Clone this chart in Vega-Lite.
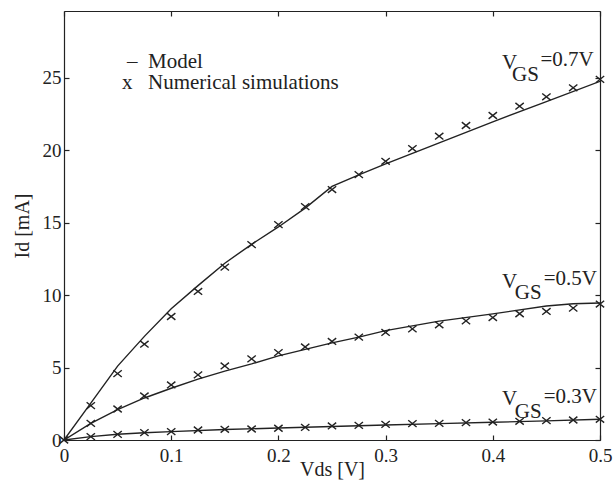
{
  "$schema": "https://vega.github.io/schema/vega-lite/v6.json",
  "width": 536,
  "height": 429,
  "autosize": {"type": "none"},
  "padding": {"left": 64, "top": 11, "right": 13, "bottom": 44},
  "background": "white",
  "config": {
    "font": "Liberation Serif",
    "view": {"stroke": null},
    "axis": {"grid": false, "domainColor": "#222", "tickColor": "#222", "labelColor": "#222", "titleColor": "#222", "labelFont": "Liberation Serif", "titleFont": "Liberation Serif", "titleFontWeight": "normal", "labelFontSize": 19, "titleFontSize": 20, "tickSize": -5, "domainWidth": 1.2, "tickWidth": 1.2}
  },
  "datasets": {
    "model": [
      {"vgs": "0.7", "vds": 0, "id": 0}, {"vgs": "0.7", "vds": 0.025, "id": 2.55}, {"vgs": "0.7", "vds": 0.05, "id": 5.1}, {"vgs": "0.7", "vds": 0.075, "id": 7.15}, {"vgs": "0.7", "vds": 0.1, "id": 9.05}, {"vgs": "0.7", "vds": 0.125, "id": 10.65}, {"vgs": "0.7", "vds": 0.15, "id": 12.2}, {"vgs": "0.7", "vds": 0.175, "id": 13.5}, {"vgs": "0.7", "vds": 0.2, "id": 14.7}, {"vgs": "0.7", "vds": 0.225, "id": 16.0}, {"vgs": "0.7", "vds": 0.25, "id": 17.5}, {"vgs": "0.7", "vds": 0.275, "id": 18.3}, {"vgs": "0.7", "vds": 0.3, "id": 19.05}, {"vgs": "0.7", "vds": 0.35, "id": 20.5}, {"vgs": "0.7", "vds": 0.4, "id": 21.95}, {"vgs": "0.7", "vds": 0.45, "id": 23.35}, {"vgs": "0.7", "vds": 0.5, "id": 24.75},
      {"vgs": "0.5", "vds": 0, "id": 0}, {"vgs": "0.5", "vds": 0.025, "id": 1.15}, {"vgs": "0.5", "vds": 0.05, "id": 2.1}, {"vgs": "0.5", "vds": 0.075, "id": 2.9}, {"vgs": "0.5", "vds": 0.1, "id": 3.57}, {"vgs": "0.5", "vds": 0.125, "id": 4.2}, {"vgs": "0.5", "vds": 0.15, "id": 4.75}, {"vgs": "0.5", "vds": 0.175, "id": 5.25}, {"vgs": "0.5", "vds": 0.2, "id": 5.8}, {"vgs": "0.5", "vds": 0.225, "id": 6.25}, {"vgs": "0.5", "vds": 0.25, "id": 6.7}, {"vgs": "0.5", "vds": 0.275, "id": 7.1}, {"vgs": "0.5", "vds": 0.3, "id": 7.55}, {"vgs": "0.5", "vds": 0.35, "id": 8.2}, {"vgs": "0.5", "vds": 0.4, "id": 8.7}, {"vgs": "0.5", "vds": 0.45, "id": 9.25}, {"vgs": "0.5", "vds": 0.475, "id": 9.4}, {"vgs": "0.5", "vds": 0.5, "id": 9.45},
      {"vgs": "0.3", "vds": 0, "id": 0}, {"vgs": "0.3", "vds": 0.025, "id": 0.23}, {"vgs": "0.3", "vds": 0.05, "id": 0.4}, {"vgs": "0.3", "vds": 0.075, "id": 0.5}, {"vgs": "0.3", "vds": 0.1, "id": 0.58}, {"vgs": "0.3", "vds": 0.15, "id": 0.72}, {"vgs": "0.3", "vds": 0.2, "id": 0.83}, {"vgs": "0.3", "vds": 0.25, "id": 0.93}, {"vgs": "0.3", "vds": 0.3, "id": 1.04}, {"vgs": "0.3", "vds": 0.35, "id": 1.13}, {"vgs": "0.3", "vds": 0.4, "id": 1.22}, {"vgs": "0.3", "vds": 0.45, "id": 1.32}, {"vgs": "0.3", "vds": 0.5, "id": 1.43}
    ],
    "sim": [
      {"vgs": "0.7", "vds": 0, "id": 0}, {"vgs": "0.7", "vds": 0.025, "id": 2.37}, {"vgs": "0.7", "vds": 0.05, "id": 4.58}, {"vgs": "0.7", "vds": 0.075, "id": 6.61}, {"vgs": "0.7", "vds": 0.1, "id": 8.52}, {"vgs": "0.7", "vds": 0.125, "id": 10.25}, {"vgs": "0.7", "vds": 0.15, "id": 11.93}, {"vgs": "0.7", "vds": 0.175, "id": 13.48}, {"vgs": "0.7", "vds": 0.2, "id": 14.86}, {"vgs": "0.7", "vds": 0.225, "id": 16.1}, {"vgs": "0.7", "vds": 0.25, "id": 17.28}, {"vgs": "0.7", "vds": 0.275, "id": 18.31}, {"vgs": "0.7", "vds": 0.3, "id": 19.23}, {"vgs": "0.7", "vds": 0.325, "id": 20.11}, {"vgs": "0.7", "vds": 0.35, "id": 20.96}, {"vgs": "0.7", "vds": 0.375, "id": 21.7}, {"vgs": "0.7", "vds": 0.4, "id": 22.39}, {"vgs": "0.7", "vds": 0.425, "id": 23.03}, {"vgs": "0.7", "vds": 0.45, "id": 23.68}, {"vgs": "0.7", "vds": 0.475, "id": 24.3}, {"vgs": "0.7", "vds": 0.5, "id": 24.88},
      {"vgs": "0.5", "vds": 0.025, "id": 1.15}, {"vgs": "0.5", "vds": 0.05, "id": 2.14}, {"vgs": "0.5", "vds": 0.075, "id": 3.04}, {"vgs": "0.5", "vds": 0.1, "id": 3.8}, {"vgs": "0.5", "vds": 0.125, "id": 4.49}, {"vgs": "0.5", "vds": 0.15, "id": 5.11}, {"vgs": "0.5", "vds": 0.175, "id": 5.6}, {"vgs": "0.5", "vds": 0.2, "id": 6.03}, {"vgs": "0.5", "vds": 0.225, "id": 6.42}, {"vgs": "0.5", "vds": 0.25, "id": 6.8}, {"vgs": "0.5", "vds": 0.275, "id": 7.1}, {"vgs": "0.5", "vds": 0.3, "id": 7.42}, {"vgs": "0.5", "vds": 0.325, "id": 7.67}, {"vgs": "0.5", "vds": 0.35, "id": 7.95}, {"vgs": "0.5", "vds": 0.375, "id": 8.22}, {"vgs": "0.5", "vds": 0.4, "id": 8.45}, {"vgs": "0.5", "vds": 0.425, "id": 8.71}, {"vgs": "0.5", "vds": 0.45, "id": 8.87}, {"vgs": "0.5", "vds": 0.475, "id": 9.1}, {"vgs": "0.5", "vds": 0.5, "id": 9.38},
      {"vgs": "0.3", "vds": 0.025, "id": 0.23}, {"vgs": "0.3", "vds": 0.05, "id": 0.39}, {"vgs": "0.3", "vds": 0.075, "id": 0.51}, {"vgs": "0.3", "vds": 0.1, "id": 0.58}, {"vgs": "0.3", "vds": 0.125, "id": 0.69}, {"vgs": "0.3", "vds": 0.15, "id": 0.74}, {"vgs": "0.3", "vds": 0.175, "id": 0.76}, {"vgs": "0.3", "vds": 0.2, "id": 0.81}, {"vgs": "0.3", "vds": 0.225, "id": 0.87}, {"vgs": "0.3", "vds": 0.25, "id": 0.97}, {"vgs": "0.3", "vds": 0.275, "id": 1.01}, {"vgs": "0.3", "vds": 0.3, "id": 1.08}, {"vgs": "0.3", "vds": 0.325, "id": 1.13}, {"vgs": "0.3", "vds": 0.35, "id": 1.15}, {"vgs": "0.3", "vds": 0.375, "id": 1.2}, {"vgs": "0.3", "vds": 0.4, "id": 1.24}, {"vgs": "0.3", "vds": 0.425, "id": 1.29}, {"vgs": "0.3", "vds": 0.45, "id": 1.34}, {"vgs": "0.3", "vds": 0.475, "id": 1.38}, {"vgs": "0.3", "vds": 0.5, "id": 1.43}
    ],
    "labels": [
      {"vds": 0.4086, "id": 25.57, "text": "V"}, {"vds": 0.418, "id": 24.75, "text": "GS"}, {"vds": 0.4445, "id": 25.78, "text": "=0.7V"},
      {"vds": 0.4086, "id": 10.5, "text": "V"}, {"vds": 0.4205, "id": 9.7, "text": "GS"}, {"vds": 0.4475, "id": 10.71, "text": "=0.5V"},
      {"vds": 0.4086, "id": 2.42, "text": "V"}, {"vds": 0.4205, "id": 1.5, "text": "GS"}, {"vds": 0.4475, "id": 2.56, "text": "=0.3V"},
      {"vds": 0.0588, "id": 25.64, "text": "–"}, {"vds": 0.0784, "id": 25.64, "text": "Model"},
      {"vds": 0.0541, "id": 24.19, "text": "x"}, {"vds": 0.0784, "id": 24.19, "text": "Numerical simulations"}
    ]
  },
  "resolve": {"axis": {"x": "independent", "y": "independent"}},
  "layer": [
    {
      "data": {"name": "model"},
      "mark": {"type": "line", "color": "#222", "strokeWidth": 1.4, "clip": true},
      "encoding": {
        "x": {"field": "vds", "type": "quantitative", "scale": {"domain": [0, 0.5], "nice": false}, "axis": {"orient": "bottom", "title": "Vds [V]", "values": [0, 0.1, 0.2, 0.3, 0.4, 0.5], "format": "~g", "labelPadding": 11, "titlePadding": -6, "labelFlush": false}},
        "y": {"field": "id", "type": "quantitative", "scale": {"domain": [0, 29.6], "nice": false}, "axis": {"orient": "left", "title": "Id [mA]", "values": [0, 5, 10, 15, 20, 25], "labelPadding": 8, "titlePadding": 10, "labelFlush": false}},
        "detail": {"field": "vgs"}
      }
    },
    {
      "data": {"name": "sim"},
      "mark": {"type": "point", "shape": "M-1,-0.8L1,0.8M-1,0.8L1,-0.8", "filled": false, "color": "#222", "size": 70, "strokeWidth": 1.4, "opacity": 1},
      "encoding": {
        "x": {"field": "vds", "type": "quantitative", "axis": {"orient": "top", "title": null, "labels": false, "values": [0, 0.1, 0.2, 0.3, 0.4, 0.5]}},
        "y": {"field": "id", "type": "quantitative", "axis": {"orient": "right", "title": null, "labels": false, "values": [0, 5, 10, 15, 20, 25]}}
      }
    },
    {
      "data": {"name": "labels"},
      "mark": {"type": "text", "align": "left", "baseline": "alphabetic", "fontSize": 21, "color": "#222", "font": "Liberation Serif"},
      "encoding": {
        "x": {"field": "vds", "type": "quantitative", "axis": null},
        "y": {"field": "id", "type": "quantitative", "axis": null},
        "text": {"field": "text"}
      }
    }
  ]
}
